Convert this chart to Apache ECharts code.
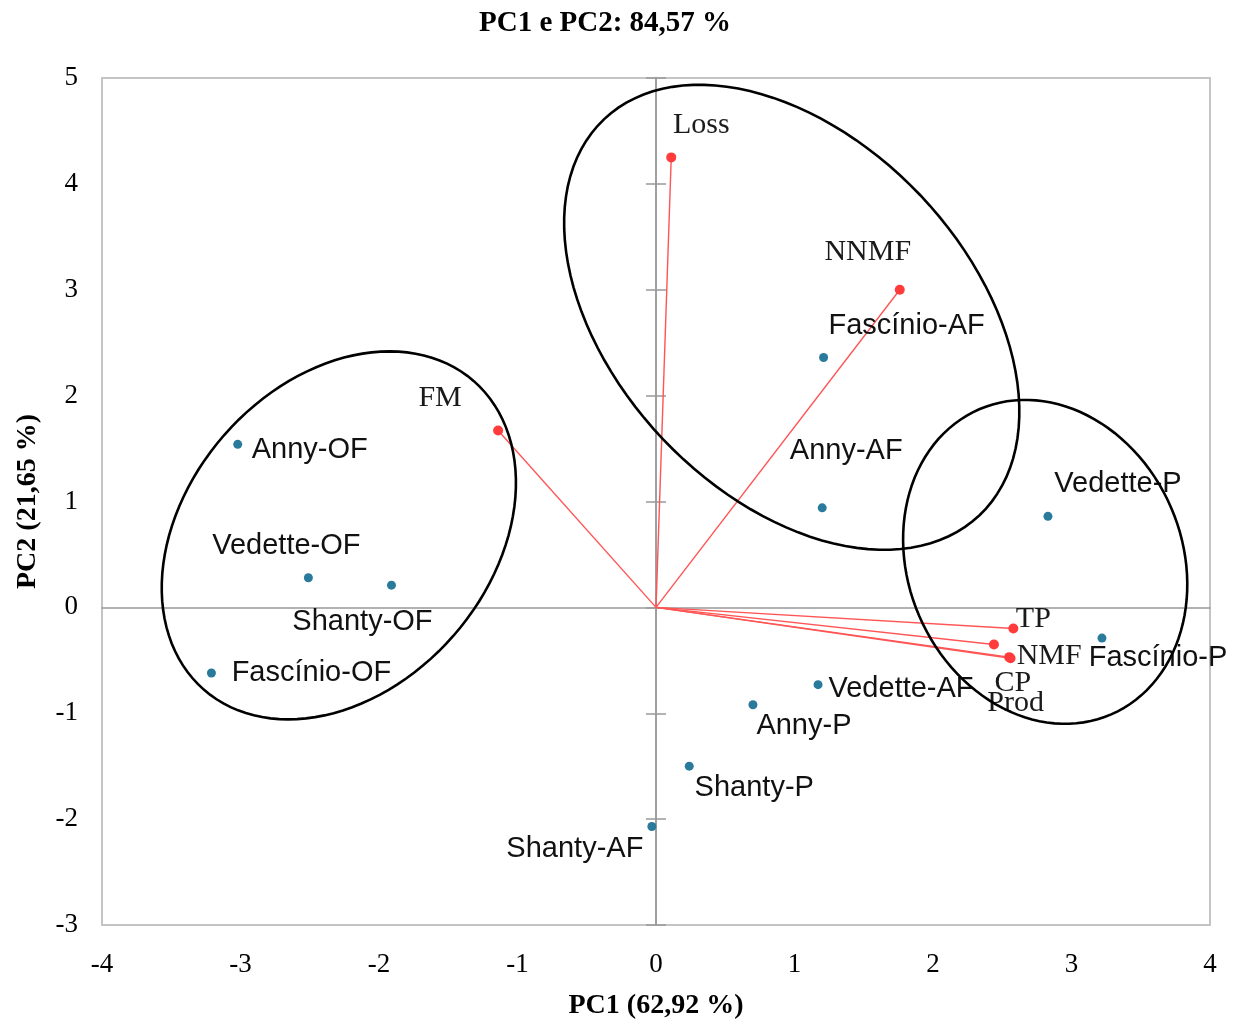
<!DOCTYPE html>
<html style="height: 100%">
<head>
  <meta charset="UTF-8">
  <title>PC1 e PC2</title>
  <script src="https://cdnjs.cloudflare.com/ajax/libs/echarts/6.0.0/echarts.min.js"></script>
  <style>
    body {
      margin: 0;
      height: 100%;
      background: #fff;
    }
    #main {
      width: 1242px;
      height: 1024px;
    }
  </style>
</head>
<body>
  <div id="main"></div>

  <script>
    // sample scores (blue points)
    const sampleNames = ['Anny-OF', 'Vedette-OF', 'Shanty-OF', 'Fascínio-OF', 'Fascínio-AF', 'Anny-AF',
      'Vedette-AF', 'Shanty-AF', 'Anny-P', 'Vedette-P', 'Shanty-P', 'Fascínio-P'];
    const samplePC1 = [-3.02, -2.51, -1.91, -3.21, 1.21, 1.20, 1.17, -0.03, 0.70, 2.83, 0.24, 3.22];
    const samplePC2 = [1.54, 0.28, 0.21, -0.62, 2.36, 0.94, -0.73, -2.07, -0.92, 0.86, -1.50, -0.29];

    // variable loadings (red vectors)
    const variableNames = ['Loss', 'NNMF', 'FM', 'TP', 'CP', 'NMF', 'Prod'];
    const variablePC1 = [0.11, 1.76, -1.14, 2.58, 2.44, 2.55, 2.56];
    const variablePC2 = [4.25, 3.00, 1.67, -0.20, -0.35, -0.47, -0.48];

    // cluster ellipses: centre (PC1, PC2), semi-axes in PC1 units, screen angle in degrees
    const ellipseCenterX = [-2.29, 0.98, 2.81];
    const ellipseCenterY = [0.68, 2.74, 0.43];
    const ellipseRadiusA = [1.48, 1.97, 1.20];
    const ellipseRadiusB = [1.10, 1.28, 0.99];
    const ellipseAngle = [-48.8, 46.5, 66.6];

    // label placement (pixel offsets of label centre from the point)
    const sampleLabelOffsets = [[72, 6], [-22, -32], [-29, 37], [100, 0], [83, -32], [24, -57],
      [83, 4], [-77, 22], [51, 21], [70, -32], [65, 22], [56, 20]];
    const variableLabelOffsets = [[30, -32], [-32, -38], [-58, -32], [20, -9], [19, 39], [40, -1], [5, 45]];

    const serif = '"Liberation Serif", "Times New Roman", serif';
    const sans = '"Liberation Sans", Arial, sans-serif';

    const sampleData = sampleNames.map((n, i) => ({
      name: n,
      value: [samplePC1[i], samplePC2[i]],
      label: { offset: sampleLabelOffsets[i] }
    }));
    const variableData = variableNames.map((n, i) => ({
      name: n,
      value: [variablePC1[i], variablePC2[i]],
      label: { offset: variableLabelOffsets[i] }
    }));
    const ellipseData = ellipseCenterX.map((x, i) =>
      [x, ellipseCenterY[i], ellipseRadiusA[i], ellipseRadiusB[i], ellipseAngle[i]]);

    const myChart = echarts.init(document.getElementById('main'));

    const baseX = { type: 'value', min: -4, max: 4, interval: 1, splitLine: { show: false } };
    const baseY = { type: 'value', min: -3, max: 5, interval: 1, splitLine: { show: false } };

    const option = {
      animation: false,
      backgroundColor: '#fff',
      title: {
        text: 'PC1 e PC2: 84,57 %',
        left: 474,
        top: 4,
        textStyle: { fontFamily: serif, fontWeight: 'bold', fontSize: 29, color: '#000' }
      },
      grid: {
        left: 102, right: 32, top: 78, bottom: 99,
        show: true,
        borderColor: '#c4c4c4',
        borderWidth: 2,
        outerBoundsMode: 'none'
      },
      xAxis: [
        Object.assign({}, baseX, {
          position: 'bottom',
          axisLine: { show: false, onZero: false },
          axisTick: { show: false },
          axisLabel: { fontFamily: serif, fontSize: 27, color: '#000', margin: 26 },
          name: 'PC1 (62,92 %)',
          nameLocation: 'middle',
          nameGap: 67,
          nameTextStyle: { fontFamily: serif, fontWeight: 'bold', fontSize: 28, color: '#000' }
        }),
        Object.assign({}, baseX, {
          position: 'bottom',
          axisLine: { show: true, onZero: true, lineStyle: { color: '#999', width: 1.5 } },
          axisTick: { show: false },
          axisLabel: { show: false }
        })
      ],
      yAxis: [
        Object.assign({}, baseY, {
          position: 'left',
          axisLine: { show: false, onZero: false },
          axisTick: { show: false },
          axisLabel: { fontFamily: serif, fontSize: 27, color: '#000', margin: 24 },
          name: 'PC2 (21,65 %)',
          nameLocation: 'middle',
          nameGap: 60,
          nameTextStyle: { fontFamily: serif, fontWeight: 'bold', fontSize: 28, color: '#000' }
        }),
        Object.assign({}, baseY, {
          position: 'left',
          axisLine: { show: true, onZero: true, lineStyle: { color: '#999', width: 1.5 } },
          axisTick: { show: true, inside: true, length: 10, lineStyle: { color: '#999', width: 1.5 } },
          axisLabel: { show: false }
        }),
        Object.assign({}, baseY, {
          position: 'left',
          axisLine: { show: true, onZero: true, lineStyle: { color: '#999', width: 1.5 } },
          axisTick: { show: true, inside: false, length: 10, lineStyle: { color: '#999', width: 1.5 } },
          axisLabel: { show: false }
        })
      ],
      series: [
        {
          name: 'vectors',
          type: 'custom',
          silent: true,
          clip: false,
          data: variableData.map(d => d.value),
          renderItem: function (params, api) {
            const p0 = api.coord([0, 0]);
            const p1 = api.coord([api.value(0), api.value(1)]);
            return {
              type: 'line',
              shape: { x1: p0[0], y1: p0[1], x2: p1[0], y2: p1[1] },
              style: { stroke: '#ff5555', lineWidth: 1.4 }
            };
          }
        },
        {
          name: 'samples',
          type: 'scatter',
          symbolSize: 9,
          itemStyle: { color: '#2a7a9c', opacity: 1 },
          label: {
            show: true,
            position: 'inside',
            align: 'center',
            verticalAlign: 'middle',
            formatter: '{b}',
            fontFamily: sans,
            fontSize: 29,
            color: '#111',
            opacity: 1,
            textBorderWidth: 0
          },
          data: sampleData,
          z: 3
        },
        {
          name: 'variables',
          type: 'scatter',
          symbolSize: 10,
          itemStyle: { color: '#ff3b3b', opacity: 1 },
          label: {
            show: true,
            position: 'inside',
            align: 'center',
            verticalAlign: 'middle',
            formatter: '{b}',
            fontFamily: serif,
            fontSize: 30,
            color: '#1a1a1a',
            opacity: 1,
            textBorderWidth: 0
          },
          data: variableData,
          z: 3
        },
        {
          name: 'clusters',
          type: 'custom',
          silent: true,
          clip: false,
          z: 4,
          data: ellipseData,
          encode: { x: 0, y: 1 },
          renderItem: function (params, api) {
            const c = api.coord([api.value(0), api.value(1)]);
            const unit = api.size([1, 0])[0];
            const a = api.value(2) * unit;
            const b = api.value(3) * unit;
            const t = api.value(4) * Math.PI / 180;
            const pts = [];
            for (let i = 0; i < 120; i++) {
              const s = i / 120 * Math.PI * 2;
              const ex = a * Math.cos(s);
              const ey = b * Math.sin(s);
              pts.push([
                c[0] + ex * Math.cos(t) - ey * Math.sin(t),
                c[1] + ex * Math.sin(t) + ey * Math.cos(t)
              ]);
            }
            return {
              type: 'polygon',
              shape: { points: pts },
              style: { fill: 'none', stroke: '#000', lineWidth: 2.6 }
            };
          }
        }
      ]
    };

    myChart.setOption(option);

    window.addEventListener('resize', () => {
      myChart.resize();
    });
  </script>
</body>
</html>
